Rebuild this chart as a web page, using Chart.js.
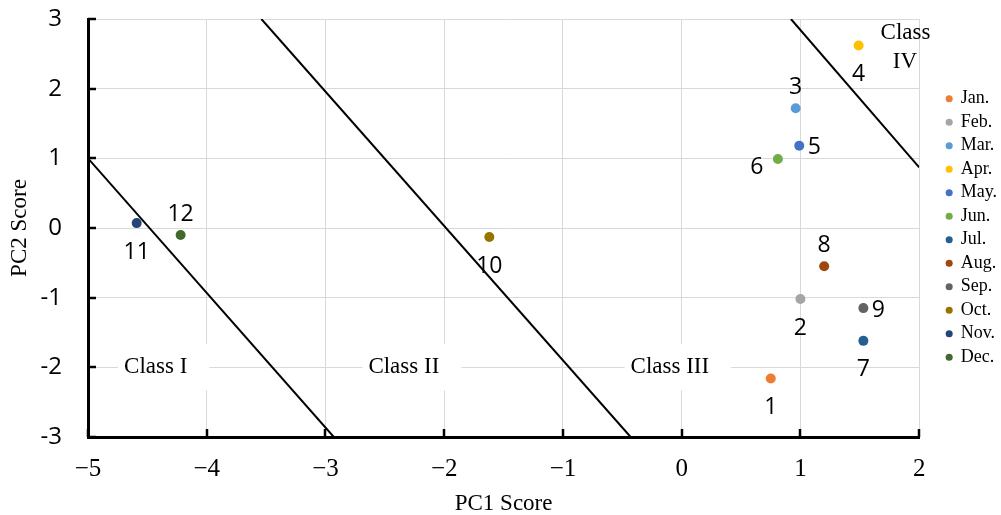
<!DOCTYPE html>
<html><head><meta charset="utf-8">
<script src="https://cdn.jsdelivr.net/npm/chart.js@4/dist/chart.umd.min.js"></script>
<style>html,body{margin:0;padding:0;background:#fff}#wrap{width:1001px;height:515px}</style>
</head><body><div id="wrap"><canvas id="c" width="1001" height="515"></canvas></div>
<script>
// ---- data ----
const months = ['Jan.','Feb.','Mar.','Apr.','May.','Jun.','Jul.','Aug.','Sep.','Oct.','Nov.','Dec.'];
const monthNumbers = ['1','2','3','4','5','6','7','8','9','10','11','12'];
const pc1 = [0.75, 1.00, 0.96, 1.49, 0.99, 0.81, 1.53, 1.20, 1.53, -1.62, -4.59, -4.22];
const pc2 = [-2.16, -1.02, 1.72, 2.62, 1.18, 0.99, -1.62, -0.55, -1.15, -0.13, 0.07, -0.10];
const colors = ['#ED7D31','#A5A5A5','#5B9BD5','#FFC000','#4472C4','#70AD47','#255E91','#9E480E','#636363','#997300','#264478','#43682B'];
const labelSide = ['below','below','above','below','right','left','below','above','right','below','below','above'];
const boundaryX = [[-5, -2.93], [-3.54, -0.43], [0.92, 2.0]];
const boundaryY = [[1, -3], [3, -3], [3, 0.87]];
const classNames = ['Class I', 'Class II', 'Class III'];
const classX = [-4.43, -2.34, -0.10];
const classY = [-2, -2, -2];
const class4Lines = ['Class', 'IV'];
const class4X = [1.885, 1.88];
const class4Y = [2.80, 2.39];
const xTickValues = [-5, -4, -3, -2, -1, 0, 1, 2];
const xTickLabels = ['\u22125', '\u22124', '\u22123', '\u22122', '\u22121', '0', '1', '2'];
const yTickValues = [-3, -2, -1, 0, 1, 2, 3];
const yTickLabels = ['-3', '-2', '-1', '0', '1', '2', '3'];

// ---- datasets ----
const datasets = months.map((m, i) => ({
  type: 'scatter', label: m, data: [{x: pc1[i], y: pc2[i]}],
  backgroundColor: colors[i], borderColor: colors[i], borderWidth: 0,
  pointRadius: 5, pointHoverRadius: 5, pointStyle: 'circle', xAxisID: 'x', yAxisID: 'y', order: 1
}));
boundaryX.forEach((bx, k) => {
  datasets.push({
    type: 'line', label: '_boundary' + k,
    data: bx.map((v, j) => ({x: v, y: boundaryY[k][j]})),
    borderColor: '#000', borderWidth: 2, pointRadius: 0, fill: false, tension: 0,
    xAxisID: 'x', yAxisID: 'y', order: 2
  });
});

const overlay = {
  id: 'overlay',
  beforeDatasetsDraw(chart) {
    const {ctx} = chart; const x = chart.scales.x, y = chart.scales.y;
    ctx.save();
    ctx.font = '23px "Liberation Serif"';
    ctx.textBaseline = 'middle'; ctx.textAlign = 'center';
    classNames.forEach((t, i) => {
      const px = x.getPixelForValue(classX[i]), py = y.getPixelForValue(classY[i]);
      const w = ctx.measureText(t).width;
      ctx.fillStyle = '#fff';
      ctx.fillRect(px - w / 2 - 6, py - 23, w + 28, 46);
      ctx.fillStyle = '#000';
      ctx.fillText(t, px, py);
    });
    class4Lines.forEach((t, i) => {
      ctx.fillStyle = '#000';
      ctx.fillText(t, x.getPixelForValue(class4X[i]), y.getPixelForValue(class4Y[i]));
    });
    ctx.restore();
  },
  afterDatasetsDraw(chart) {
    const {ctx} = chart; const x = chart.scales.x, y = chart.scales.y;
    ctx.save();
    // inner tick marks
    ctx.strokeStyle = '#000'; ctx.lineWidth = 2.5;
    yTickValues.forEach(v => {
      const py = Math.round(y.getPixelForValue(v));
      ctx.beginPath(); ctx.moveTo(x.left, py); ctx.lineTo(x.left + 8, py); ctx.stroke();
    });
    xTickValues.forEach(v => {
      const px = Math.round(x.getPixelForValue(v));
      ctx.beginPath(); ctx.moveTo(px, y.bottom); ctx.lineTo(px, y.bottom - 8); ctx.stroke();
    });
    // point number labels
    ctx.font = '23px "Open Sans"';
    ctx.fillStyle = '#000'; ctx.textAlign = 'center'; ctx.textBaseline = 'middle';
    const off = {above: [0, -21], below: [0, 29], right: [15, 2], left: [-21, 8]};
    monthNumbers.forEach((t, i) => {
      const px = x.getPixelForValue(pc1[i]), py = y.getPixelForValue(pc2[i]);
      const o = off[labelSide[i]];
      ctx.fillText(t, px + o[0], py + o[1]);
    });
    ctx.restore();
  }
};

const noPad = s => { s.paddingTop = 0; s.paddingBottom = 0; s.paddingLeft = 0; s.paddingRight = 0; };

new Chart(document.getElementById('c'), {
  data: {datasets},
  options: {
    responsive: false, devicePixelRatio: 1, animation: false,
    layout: {padding: {top: 19, left: 0, right: -6, bottom: 0}},
    plugins: {
      tooltip: {enabled: false},
      legend: {
        position: 'right', align: 'center', fullSize: false,
        labels: {
          filter: item => item.datasetIndex < months.length,
          usePointStyle: true, pointStyle: 'circle', boxWidth: 5, boxHeight: 5, padding: 5.5,
          color: '#000', font: {family: 'Liberation Serif', size: 18}
        }
      }
    },
    scales: {
      x: {
        type: 'linear', position: 'bottom', min: -5, max: 2,
        afterBuildTicks: s => { s.ticks = xTickValues.map(v => ({value: v})); },
        ticks: {callback: (v) => xTickLabels[xTickValues.indexOf(v)], color: '#000',
          font: {family: 'Liberation Serif', size: 25}, padding: 17, maxRotation: 0},
        grid: {color: '#d9d9d9', lineWidth: 1, drawTicks: false},
        border: {color: '#000', width: 3},
        title: {display: true, text: 'PC1 Score', color: '#000',
          font: {family: 'Liberation Serif', size: 23, lineHeight: 1}, padding: {top: 0, bottom: 0}},
        afterFit: s => { s.height = 78; noPad(s); }
      },
      y: {
        type: 'linear', position: 'left', min: -3, max: 3,
        afterBuildTicks: s => { s.ticks = yTickValues.map(v => ({value: v})); },
        ticks: {callback: v => yTickLabels[yTickValues.indexOf(v)], color: '#000',
          font: {family: 'Open Sans', size: 24}, padding: 26},
        grid: {color: '#d9d9d9', lineWidth: 1, drawTicks: false},
        border: {color: '#000', width: 3},
        title: {display: true, text: 'PC2 Score', color: '#000',
          font: {family: 'Liberation Serif', size: 23}, padding: {top: 6, bottom: 0}},
        afterFit: s => { s.width = 88; noPad(s); }
      },
      gap: {
        type: 'linear', position: 'right', display: true,
        grid: {display: false}, ticks: {display: false}, border: {display: false},
        afterFit: s => { s.width = 22; noPad(s); }
      }
    }
  },
  plugins: [overlay]
});
</script>
</body></html>
